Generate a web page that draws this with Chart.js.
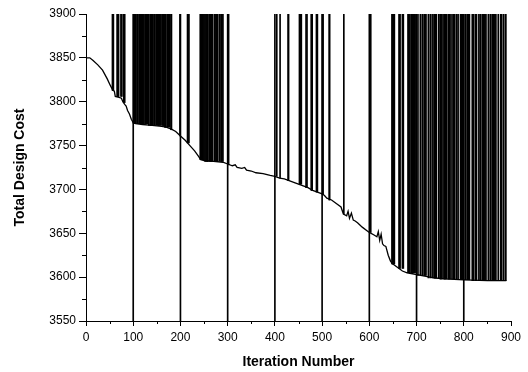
<!DOCTYPE html>
<html>
<head>
<meta charset="utf-8">
<script src="https://cdn.jsdelivr.net/npm/chart.js@4.4.1/dist/chart.umd.min.js"></script>
<style>
  html, body { margin: 0; padding: 0; background: #fff; }
  #wrap { width: 528px; height: 372px; }
</style>
</head>
<body>
<div id="wrap"><canvas id="costChart" width="528" height="372"></canvas></div>
<script>
const curveIters = [0, 8, 15, 25, 35, 45, 52, 57, 60, 62, 70, 75, 78, 82, 85, 88, 92, 96, 100, 105,
  120, 140, 160, 170, 175, 180, 190, 200, 210, 220, 230, 238, 243, 250, 270, 290, 300, 310, 316, 320,
  330, 336, 340, 350, 360, 375, 390, 400, 410, 420, 430, 440, 450, 460, 470, 480, 490, 500, 505, 510,
  520, 530, 540, 545, 552, 555, 558, 562, 566, 570, 575, 585, 595, 600, 610, 616, 619, 622, 625, 628,
  631, 635, 640, 645, 650, 660, 670, 680, 700, 720, 740, 760, 800, 850, 890];
const curveCosts = [3850, 3850, 3847, 3842, 3836, 3826, 3818, 3813, 3812, 3806, 3805, 3804, 3800, 3797, 3795, 3790, 3786, 3780, 3776, 3775,
  3774, 3773, 3772, 3771, 3770, 3769, 3766, 3761, 3756, 3750, 3744, 3738, 3734, 3733, 3732, 3731, 3729, 3727, 3728, 3725,
  3724, 3725, 3722, 3721, 3719, 3718, 3716, 3715, 3713, 3712, 3710, 3708, 3706, 3704, 3702, 3699, 3697, 3695, 3693, 3690,
  3688, 3684, 3680, 3672, 3670, 3675, 3667, 3673, 3665, 3664, 3662, 3657, 3653, 3651, 3648, 3646, 3652, 3642, 3649, 3638,
  3636, 3635, 3625, 3618, 3615, 3611, 3607, 3605, 3603, 3601, 3599, 3598, 3597, 3596, 3596];

// pieken naar boven: per groep de kostwaarde aan de voet en de iteraties
const spikeBases = [3813, 3806, 3799, 3775, 3773, 3771, 3768, 3761, 3753, 3734, 3732, 3728, 3715, 3713, 3710, 3706,
  3702, 3699, 3697, 3694, 3688, 3672, 3651, 3615, 3610, 3605, 3602, 3599, 3598, 3597, 3596];
const spikeIters = [
  [56, 57, 58],
  [66, 67, 68, 69, 74, 76],
  [80, 82],
  [101, 102, 103, 105, 108, 109, 110, 113, 116, 117, 118, 119, 121, 123, 126, 127, 128, 130],
  [133, 136, 137, 138, 141, 144, 145, 146, 149, 152, 153, 154, 155, 157, 159, 162, 163, 164, 165],
  [167, 168, 169, 172, 175, 177],
  [180, 181],
  [199],
  [215, 216, 218],
  [242, 243, 244, 245, 246, 248, 250],
  [252, 254, 256, 257, 258, 261, 263, 264, 265, 266, 268, 272, 275, 277, 278, 279, 283, 286, 287, 288, 290],
  [302],
  [404],
  [411],
  [428, 429],
  [452, 453, 454, 456],
  [466, 468],
  [477, 478, 479],
  [488, 490],
  [501, 502],
  [515, 516],
  [546],
  [603],
  [648, 649, 650, 651, 653],
  [663, 664, 665, 670, 672],
  [682, 683, 684, 686, 689, 692, 693, 694, 695, 697],
  [703, 708, 712, 716, 717, 718, 720],
  [725, 729, 733, 737, 738, 739, 740, 742, 747],
  [750, 751, 752, 754, 758, 759, 760, 761, 763, 767, 768, 769, 771, 775, 778, 781],
  [785, 788, 793, 794, 795, 797, 803, 807, 808, 809, 810, 812],
  [818, 821, 825, 826, 827, 832, 835, 839, 840, 841, 842, 843, 845, 847, 852, 856,
   860, 861, 862, 863, 864, 866, 868, 873, 878, 879, 880, 884, 888, 889]
];
const spikeTop = 3950;

// elke 100 iteraties een volle verticale lijn (buiten de schaal aan beide kanten)
const resetIters = [100, 200, 300, 400, 500, 600, 700, 800];
const resetLow = 3540;
const resetHigh = 3950;

// assen
const xMin = 0, xMax = 900, xStep = 100, xMinorStep = 50;
const yMin = 3550, yMax = 3900, yStep = 50, yMinorStep = 25;

const FONT = "'Liberation Sans', Arial, sans-serif";

const curveData = curveIters.map((it, i) => ({ x: it, y: curveCosts[i] }));
const spikeData = [];
spikeIters.forEach((group, g) => {
    group.forEach(it => spikeData.push({ x: it, y: [spikeBases[g], spikeTop] }));
});
const resetData = resetIters.map(it => ({ x: it, y: [resetLow, resetHigh] }));

// kleine tussenstreepjes op de assen
const minorTicks = {
    id: 'minorTicks',
    afterDraw(chart) {
        const { ctx, chartArea, scales } = chart;
        ctx.save();
        ctx.strokeStyle = '#000';
        ctx.lineWidth = 1;
        ctx.beginPath();
        for (let v = xMin + xMinorStep; v < xMax; v += xStep) {
            const px = Math.round(scales.x.getPixelForValue(v)) + 0.5;
            ctx.moveTo(px, chartArea.bottom);
            ctx.lineTo(px, chartArea.bottom + 3);
        }
        for (let v = yMin + yMinorStep; v < yMax; v += yStep) {
            const py = Math.round(scales.y.getPixelForValue(v)) + 0.5;
            ctx.moveTo(chartArea.left - 4, py);
            ctx.lineTo(chartArea.left, py);
        }
        ctx.stroke();
        ctx.restore();
    }
};

new Chart(document.getElementById('costChart'), {
    type: 'line',
    data: {
        datasets: [
            {
                type: 'line',
                data: curveData,
                borderColor: '#000',
                borderWidth: 1.3,
                pointRadius: 0,
                tension: 0,
                order: 0
            },
            {
                type: 'bar',
                data: spikeData,
                backgroundColor: '#000',
                borderWidth: 0,
                barThickness: 1,
                grouped: false,
                order: 1
            },
            {
                type: 'bar',
                data: resetData,
                backgroundColor: '#000',
                borderWidth: 0,
                barThickness: 1,
                grouped: false,
                order: 2
            }
        ]
    },
    options: {
        responsive: false,
        animation: false,
        layout: { padding: { top: 14, right: 17, left: 0, bottom: 0 } },
        plugins: {
            legend: { display: false },
            tooltip: { enabled: false }
        },
        scales: {
            x: {
                type: 'linear',
                min: xMin,
                max: xMax,
                offset: false,
                afterFit: s => { s.height = 51; },
                border: { display: true, color: '#000', width: 1 },
                grid: { drawOnChartArea: false, drawTicks: true, tickLength: 5, tickColor: '#000', offset: false },
                ticks: {
                    stepSize: xStep, color: '#000', padding: 4, maxRotation: 0, autoSkip: false,
                    font: { family: FONT, size: 12 },
                    callback: v => String(v)
                },
                title: {
                    display: true,
                    text: 'Iteration Number',
                    color: '#000',
                    padding: { top: 0, bottom: 1 },
                    font: { family: FONT, size: 14, weight: 'bold' }
                }
            },
            y: {
                min: yMin,
                max: yMax,
                afterFit: s => { s.width = 86; },
                border: { display: true, color: '#000', width: 1 },
                grid: { drawOnChartArea: false, drawTicks: true, tickLength: 7, tickColor: '#000' },
                ticks: {
                    stepSize: yStep, color: '#000', padding: 3, autoSkip: false,
                    font: { family: FONT, size: 12 },
                    callback: v => String(v)
                },
                title: {
                    display: true,
                    text: 'Total Design Cost',
                    color: '#000',
                    padding: { top: 12, bottom: 0 },
                    font: { family: FONT, size: 14, weight: 'bold' }
                }
            }
        }
    },
    plugins: [minorTicks]
});
</script>
</body>
</html>
